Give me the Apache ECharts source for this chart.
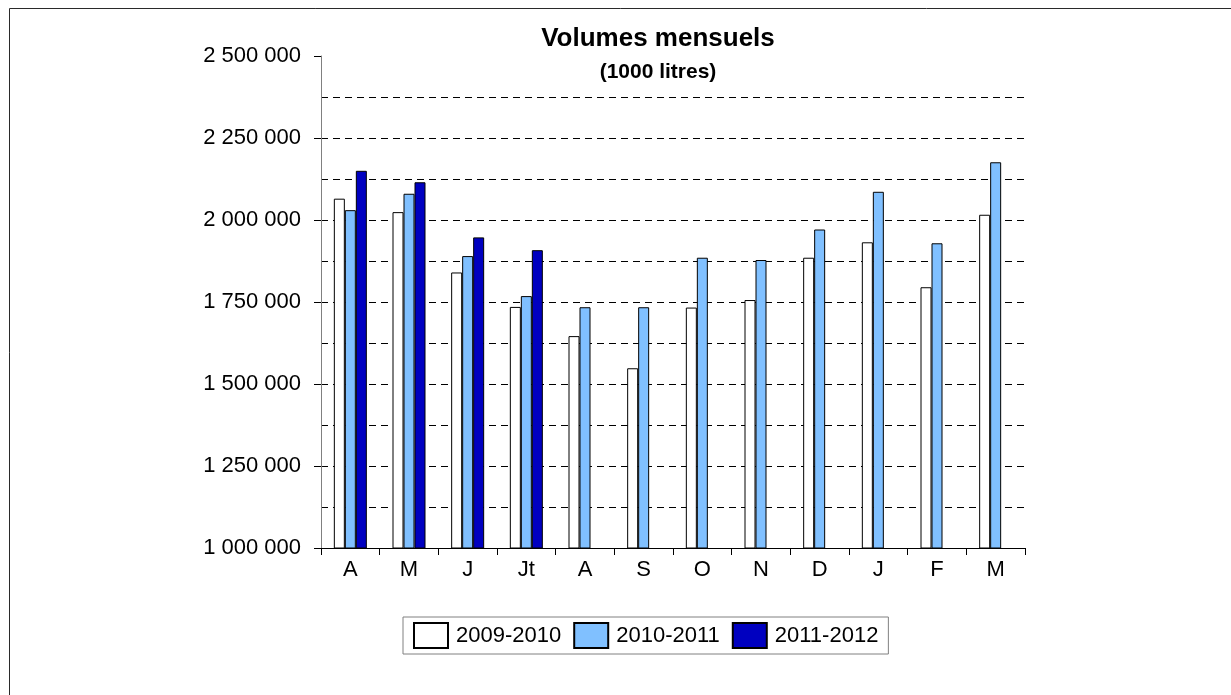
<!DOCTYPE html>
<html>
<head>
<meta charset="utf-8">
<script src="https://cdn.jsdelivr.net/npm/echarts@6/dist/echarts.min.js"></script>
<style>
  html, body { margin: 0; padding: 0; background: #fff; }
  #main { width: 1231px; height: 695px; }
</style>
</head>
<body>
<div id="main"></div>
<script>
// mois (avril -> mars)
var mois = ['A', 'M', 'J', 'Jt', 'A', 'S', 'O', 'N', 'D', 'J', 'F', 'M'];
var saisons = ['2009-2010', '2010-2011', '2011-2012'];
var vol2009 = [2065000, 2024000, 1840000, 1735000, 1646000, 1548000, 1733000, 1756000, 1885000, 1932000, 1795000, 2016000];
var vol2010 = [2030000, 2080000, 1890000, 1768000, 1734000, 1734000, 1885000, 1878000, 1971000, 2086000, 1929000, 2176000];
var vol2011 = [2150000, 2115000, 1947000, 1908000, null, null, null, null, null, null, null, null];
var couleurs = ['#ffffff', '#80c0ff', '#0000c0'];

var police = "'Liberation Sans', Arial, sans-serif";

function fmt(v) {
    return String(v).replace(/\B(?=(\d{3})+(?!\d))/g, ' ');
}

var chart = echarts.init(document.getElementById('main'));

function serie(nom, data, coul) {
    return {
        name: nom,
        type: 'bar',
        data: data,
        barWidth: 11,
        barGap: '0%',
        itemStyle: { color: coul, borderColor: '#000', borderWidth: 1 },
        emphasis: { disabled: true }
    };
}

var option = {
    animation: false,
    backgroundColor: '#fff',
    textStyle: { fontFamily: police },
    title: {
        text: 'Volumes mensuels',
        subtext: '(1000 litres)',
        left: 653,
        top: 21,
        textAlign: 'center',
        itemGap: 10,
        textStyle: { fontFamily: police, fontSize: 26, fontWeight: 'bold', color: '#000' },
        subtextStyle: { fontFamily: police, fontSize: 21, fontWeight: 'bold', color: '#000' }
    },
    legend: {
        data: saisons,
        left: 403,
        top: 617,
        padding: [5, 10],
        itemGap: 12,
        itemWidth: 34,
        itemHeight: 25,
        icon: 'rect',
        borderColor: '#808080',
        borderWidth: 1,
        textStyle: { fontFamily: police, fontSize: 22, color: '#000', padding: [0, 0, 0, 3] }
    },
    grid: { left: 321, right: 206, top: 56, bottom: 147 },
    xAxis: {
        type: 'category',
        data: mois,
        axisLine: { lineStyle: { color: '#000', width: 1 } },
        axisTick: { show: true, length: 7, lineStyle: { color: '#000' } },
        axisLabel: { fontFamily: police, fontSize: 22, color: '#000', margin: 11, interval: 0 }
    },
    yAxis: {
        type: 'value',
        min: 1000000,
        max: 2500000,
        interval: 250000,
        axisLine: { show: true, lineStyle: { color: '#808080', width: 1 } },
        axisTick: { show: true, length: 7, lineStyle: { color: '#000' } },
        axisLabel: { fontFamily: police, fontSize: 22, color: '#000', margin: 20, formatter: fmt },
        splitLine: {
            show: true,
            lineStyle: {
                color: ['#000', '#000', '#000', '#000', '#000', '#000', 'rgba(0,0,0,0)'],
                type: [7, 5],
                width: 1
            }
        },
        minorTick: { show: false, splitNumber: 2 },
        minorSplitLine: { show: true, lineStyle: { color: '#000', type: [7, 5], width: 1 } }
    },
    graphic: [{
        type: 'rect',
        left: 7,
        top: 6,
        shape: { width: 1300, height: 800 },
        style: { fill: 'none', stroke: '#2a2a2a', lineWidth: 1 },
        silent: true
    }],
    series: [
        serie(saisons[0], vol2009, couleurs[0]),
        serie(saisons[1], vol2010, couleurs[1]),
        serie(saisons[2], vol2011, couleurs[2])
    ]
};

chart.setOption(option);
</script>
</body>
</html>
